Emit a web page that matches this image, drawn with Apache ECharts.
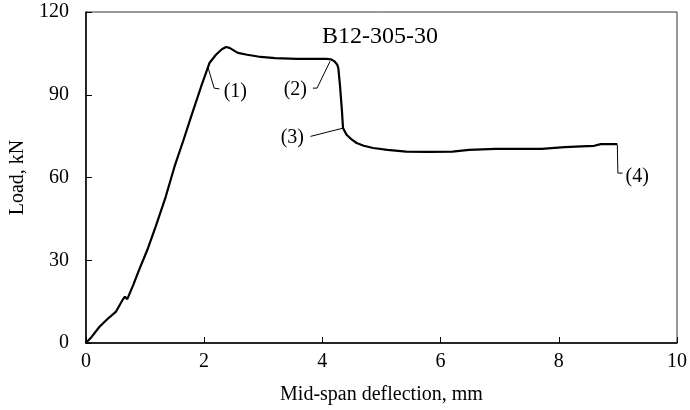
<!DOCTYPE html>
<html>
<head>
<meta charset="utf-8">
<script src="https://cdn.jsdelivr.net/npm/echarts@6/dist/echarts.min.js"></script>
<style>
html,body{margin:0;padding:0;background:#fff;}
#c{width:690px;height:410px;}
</style>
</head>
<body>
<div id="c"></div>
<script>
// Main curve: mid-span deflection (mm) vs load (kN)
const deflection = [0, 0.1, 0.23, 0.37, 0.51, 0.62, 0.66, 0.70, 0.80, 0.90, 1.04, 1.18, 1.35, 1.50, 1.65, 1.78, 1.95, 2.09, 2.20, 2.30, 2.37, 2.43, 2.57, 2.73, 2.96, 3.2, 3.57, 3.8, 4.07, 4.15, 4.20, 4.25, 4.27, 4.30, 4.33, 4.35, 4.41, 4.5, 4.58, 4.7, 4.86, 5.1, 5.42, 5.8, 6.2, 6.48, 6.93, 7.3, 7.71, 8.10, 8.38, 8.6, 8.71, 8.99];
const load = [0, 2.3, 5.9, 8.8, 11.4, 15.6, 16.8, 15.9, 21.0, 26.5, 33.8, 42.2, 53.0, 64.0, 73.5, 82.1, 93.0, 101.5, 104.5, 106.5, 107.3, 107.0, 105.2, 104.5, 103.7, 103.3, 103.0, 103.0, 103.0, 102.8, 102.2, 101, 99.7, 93, 84.6, 77.9, 75.5, 73.7, 72.5, 71.5, 70.7, 70.0, 69.4, 69.3, 69.4, 70.0, 70.4, 70.4, 70.4, 71.0, 71.3, 71.5, 72.1, 72.1];

// Annotation leaders (data coordinates) and labels
const leaderNames = ['(1)', '(2)', '(3)', '(4)'];
const leaderX = [[2.06, 2.17, 2.26], [3.84, 3.91, 4.13], [3.80, 4.35], [8.99, 9.00, 9.08]];
const leaderY = [[100.3, 92.4, 92.1], [92.4, 92.4, 102.1], [74.9, 77.9], [71.9, 61.6, 61.6]];
const labelX = [2.33, 3.74, 3.69, 9.13];
const labelY = [91.2, 91.8, 74.3, 60.4];
const labelAlign = ['left', 'right', 'right', 'left'];

const xTicks = {min: 0, max: 10, interval: 2};
const yTicks = {min: 0, max: 120, interval: 30};
const chartTitle = 'B12-305-30';
const xName = 'Mid-span deflection, mm';
const yName = 'Load, kN';

const FONT = 'Liberation Serif';
const chart = echarts.init(document.getElementById('c'), null, {renderer: 'canvas'});

const series = [{
  type: 'line',
  data: deflection.map((x, i) => [x, load[i]]),
  showSymbol: false,
  lineStyle: {color: '#000', width: 2.2},
  silent: true,
  z: 3
}];
leaderNames.forEach((n, k) => {
  series.push({
    type: 'line',
    data: leaderX[k].map((x, i) => [x, leaderY[k][i]]),
    showSymbol: false,
    lineStyle: {color: '#000', width: 1},
    silent: true,
    z: 2
  });
  series.push({
    type: 'scatter',
    data: [[labelX[k], labelY[k]]],
    symbolSize: 1,
    silent: true,
    itemStyle: {color: 'rgba(0,0,0,0)', opacity: 1},
    label: {
      show: true,
      position: 'inside',
      formatter: n,
      align: labelAlign[k],
      verticalAlign: 'middle',
      color: '#000',
      opacity: 1,
      fontFamily: FONT,
      fontSize: 20
    }
  });
});

chart.setOption({
  animation: false,
  backgroundColor: '#fff',
  grid: {left: 84, right: 10, top: 12, bottom: 67, show: true, borderColor: '#333', borderWidth: 1},
  xAxis: {
    type: 'value', min: xTicks.min, max: xTicks.max, interval: xTicks.interval,
    name: xName, nameLocation: 'middle', nameGap: 42,
    nameTextStyle: {fontFamily: FONT, fontSize: 20, color: '#000'},
    axisLine: {show: true, onZero: false, lineStyle: {color: '#000', width: 1.5}},
    axisTick: {show: true, inside: true, length: 6, lineStyle: {color: '#000'}},
    axisLabel: {fontFamily: FONT, fontSize: 20, color: '#000', margin: 9},
    splitLine: {show: false}
  },
  yAxis: {
    type: 'value', min: yTicks.min, max: yTicks.max, interval: yTicks.interval,
    name: yName, nameLocation: 'middle', nameGap: 45,
    nameTextStyle: {fontFamily: FONT, fontSize: 20, color: '#000'},
    axisLine: {show: true, onZero: false, lineStyle: {color: '#000', width: 1.5}},
    axisTick: {show: true, inside: true, length: 6, lineStyle: {color: '#000'}},
    axisLabel: {fontFamily: FONT, fontSize: 20, color: '#000', margin: 17},
    splitLine: {show: false}
  },
  graphic: [{
    type: 'text', left: 322, top: 25,
    style: {text: chartTitle, fontFamily: FONT, fontSize: 24, fill: '#000'}
  }],
  series: series
});
</script>
</body>
</html>
